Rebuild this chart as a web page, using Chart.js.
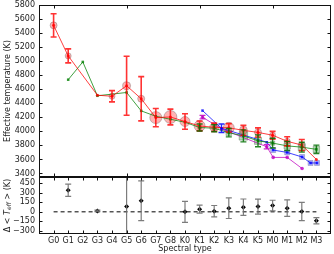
<!DOCTYPE html>
<html>
<head>
<meta charset="UTF-8">
<script src="https://cdn.jsdelivr.net/npm/chart.js"></script>
<style>
  body { margin: 0; background: #fff; }
  #wrap { position: relative; width: 334px; height: 254px; }
  canvas { position: absolute; left: 0; }
  #top { top: 0; }
  #bot { top: 176px; }
</style>
</head>
<body>
<div id="wrap">
  <canvas id="top" width="334" height="178"></canvas>
  <canvas id="bot" width="334" height="78"></canvas>
</div>
<script>
const categories = ['G0','G1','G2','G3','G4','G5','G6','G7','G8','K0','K1','K2','K3','K4','K5','M0','M1','M2','M3'];
const topYTicks = [3400,3600,3800,4000,4200,4400,4600,4800,5000,5200,5400,5600,5800];
const topXTicks = [0, 5, 10, 15];
const botYTicks = [-300,-150,0,150,300,450];

// red sample (circles sized by weight)
const redX = [0,1,3,4,5,6,7,8,9,10,11,12,13,14,15,16,17,18];
const redT = [5510,5075,4515,4500,4650,4465,4196,4205,4140,4077,4058,4050,4015,3985,3945,3858,3805,3600];
const redErr = [165,100,0,80,420,315,130,112,110,70,60,60,70,65,55,65,80,0];
const redWeight = [3.5,3,0,3,4,3.5,6,6.5,5,5.5,4.5,5.5,4,3.5,3,3,3,0];

// green sample
const greenX = [1,2,3,5,6,7,8,9,10,11,12,13,14,15,16,17,18];
const greenT = [4736,4989,4507,4554,4292,4215,4173,4130,4055,4045,3981,3936,3865,3833,3793,3775,3744];
const greenErr = [0,0,0,0,0,0,0,0,50,50,60,85,85,70,65,70,60];
const greenWeight = [0,0,0,0,0,0,0,0,2.5,3,4,6,5,3,4.5,5,4.5];

// blue sample
const blueX = [10.2,11.5,14.6,15.04,16,17.02,17.6,18.04];
const blueT = [4296,4044,3845,3734,3700,3635,3550,3550];
const blueErr = [0,60,0,0,0,0,0,0];
const blueWeight = [0,0,0,3.5,3.5,3.5,3.5,3.5];

// magenta sample
const magX = [10.2,11.5,14.6,15.04,16,17.02];
const magT = [4202,4035,3781,3629,3629,3471];
const magErr = [25,0,30,0,0,0];

// lower panel: temperature difference
const diffX = [1,3,5,6,9,10,11,12,13,14,15,16,17,18];
const diffVal = [340,15,85,175,0,42,10,58,73,83,99,58,5,-141];
const diffErr = [97,12,700,314,165,63,90,163,130,118,84,130,143,50];

Chart.defaults.font.family = 'DejaVu Sans';
Chart.defaults.font.size = 8;
Chart.defaults.color = '#222';

const pts = (xs, ys) => xs.map((x, i) => ({x: x, y: ys[i]}));

const errorBars = {
  id: 'errorBars',
  afterDatasetsDraw(chart) {
    const {ctx, chartArea: a, scales: {x, y}} = chart;
    ctx.save();
    ctx.beginPath();
    ctx.rect(a.left, a.top, a.right - a.left, a.bottom - a.top);
    ctx.clip();
    chart.data.datasets.forEach(ds => {
      if (!ds.err) return;
      ctx.strokeStyle = ds.errColor;
      ctx.lineWidth = ds.errWidth || 1.5;
      const cap = ds.errCap || 3;
      ds.data.forEach((p, i) => {
        const e = ds.err[i];
        if (!e) return;
        const px = x.getPixelForValue(p.x);
        const y1 = y.getPixelForValue(p.y + e), y2 = y.getPixelForValue(p.y - e);
        ctx.beginPath();
        ctx.moveTo(px, y1); ctx.lineTo(px, y2);
        ctx.moveTo(px - cap, y1); ctx.lineTo(px + cap, y1);
        ctx.moveTo(px - cap, y2); ctx.lineTo(px + cap, y2);
        ctx.stroke();
      });
    });
    ctx.restore();
  }
};

const frame = {
  id: 'frame',
  afterDraw(chart, args, opts) {
    const {ctx, chartArea: a, scales: {x, y}} = chart;
    const L = Math.round(a.left) + 0.5, R = Math.round(a.right) - 0.5;
    const T = Math.round(a.top) + 0.5, B = Math.round(a.bottom) - 0.5;
    ctx.save();
    ctx.strokeStyle = '#111';
    ctx.lineWidth = 1;
    ctx.strokeRect(L, T, R - L, B - T);
    ctx.beginPath();
    y.ticks.forEach(t => {
      const py = Math.round(y.getPixelForValue(t.value)) + 0.5;
      ctx.moveTo(L, py); ctx.lineTo(L + 3, py);
      ctx.moveTo(R, py); ctx.lineTo(R - 3, py);
    });
    opts.xTicks.forEach(v => {
      const px = Math.round(x.getPixelForValue(v)) + 0.5;
      ctx.moveTo(px, T); ctx.lineTo(px, T + 3);
      ctx.moveTo(px, B); ctx.lineTo(px, B - 3);
    });
    ctx.stroke();
    if (opts.yTitle) {
      ctx.translate(8, (a.top + a.bottom) / 2);
      ctx.rotate(-Math.PI / 2);
      ctx.fillStyle = '#222';
      ctx.textBaseline = 'middle';
      const parts = [
        ['8px DejaVu Sans', 'Δ < ', 0],
        ['italic 8px DejaVu Sans', 'T', 0],
        ['italic 6px DejaVu Sans', 'eff', 1.5],
        ['8px DejaVu Sans', ' > (K)', 0]
      ];
      let w = 0;
      parts.forEach(p => { ctx.font = p[0]; w += ctx.measureText(p[1]).width; });
      let cx = -w / 2;
      parts.forEach(p => {
        ctx.font = p[0];
        ctx.fillText(p[1], cx, p[2]);
        cx += ctx.measureText(p[1]).width;
      });
    }
    ctx.restore();
  }
};

function fixedTicks(arr) {
  return scale => { scale.ticks = arr.map(v => ({value: v})); };
}
function noPad(size) {
  return s => {
    if (size.w) s.width = size.w;
    if (size.h) s.height = size.h;
    s.paddingTop = 0; s.paddingBottom = 0; s.paddingLeft = 0; s.paddingRight = 0;
  };
}

new Chart(document.getElementById('top'), {
  type: 'scatter',
  data: {
    datasets: [
      { data: pts(redX, redT), showLine: true, borderColor: 'rgba(255,0,0,0.75)', borderWidth: 1,
        pointRadius: 1.5, pointBackgroundColor: 'rgba(255,0,0,0.8)', pointBorderWidth: 0,
        err: redErr, errColor: 'rgba(255,0,0,0.8)', errWidth: 1.6, order: 1 },
      { data: pts(greenX, greenT), showLine: true, borderColor: 'rgba(0,128,0,0.75)', borderWidth: 1,
        pointStyle: 'rect', pointRadius: 1.8, pointBackgroundColor: 'rgba(0,128,0,0.8)', pointBorderWidth: 0,
        err: greenErr, errColor: 'rgba(0,110,0,0.85)', errWidth: 1.4, order: 2 },
      { data: pts(blueX, blueT), showLine: true, borderColor: 'rgba(0,0,255,0.75)', borderWidth: 1,
        pointStyle: 'rect', pointRadius: 1.8, pointBackgroundColor: 'rgba(0,0,255,0.8)', pointBorderWidth: 0,
        err: blueErr, errColor: 'rgba(0,0,255,0.85)', errWidth: 1.4, order: 3 },
      { data: pts(magX, magT), showLine: true, borderColor: 'rgba(191,0,191,0.75)', borderWidth: 1,
        pointRadius: 1.8, pointBackgroundColor: 'rgba(191,0,191,0.8)', pointBorderWidth: 0,
        err: magErr, errColor: 'rgba(191,0,191,0.85)', errWidth: 1.3, order: 4 },
      { data: pts(redX, redT), pointRadius: redWeight, backgroundColor: 'rgba(255,0,0,0.3)',
        borderColor: 'rgba(90,90,90,0.35)', borderWidth: 1, order: 5 },
      { data: pts(greenX, greenT), pointStyle: 'rect', pointRadius: greenWeight, backgroundColor: 'rgba(0,128,0,0.3)',
        borderColor: 'rgba(60,90,60,0.35)', borderWidth: 1, order: 6 },
      { data: pts(blueX, blueT), pointStyle: 'rect', pointRadius: blueWeight, backgroundColor: 'rgba(0,0,255,0.3)',
        borderColor: 'rgba(60,60,120,0.3)', borderWidth: 1, order: 7 }
    ]
  },
  options: {
    responsive: false,
    animation: false,
    layout: { autoPadding: false, padding: { top: 5, bottom: 1, left: 0, right: 3 } },
    plugins: { legend: { display: false }, tooltip: { enabled: false }, frame: { xTicks: topXTicks } },
    scales: {
      x: { type: 'linear', min: -1, max: 19, display: false },
      y: {
        min: 3350, max: 5800,
        afterBuildTicks: fixedTicks(topYTicks),
        afterFit: noPad({w: 39}),
        grid: { display: false, drawTicks: false },
        border: { display: false },
        ticks: { padding: 4, autoSkip: false, color: '#222', callback: v => String(v) },
        title: { display: true, text: 'Effective temperature (K)', padding: { top: 3, bottom: 0 }, color: '#222' }
      }
    }
  },
  plugins: [errorBars, frame]
});

new Chart(document.getElementById('bot'), {
  type: 'scatter',
  data: {
    datasets: [
      { data: pts(diffX, diffVal), pointStyle: 'rectRot', pointRadius: 2.5, pointBackgroundColor: '#000',
        pointBorderWidth: 0, err: diffErr, errColor: 'rgba(110,110,110,0.9)', errWidth: 1.2, order: 1 },
      { data: [{x: 0, y: 0}, {x: categories.length - 1, y: 0}], showLine: true, borderColor: '#000',
        borderWidth: 1, borderDash: [4, 3], pointRadius: 0, order: 2 }
    ]
  },
  options: {
    responsive: false,
    animation: false,
    layout: { autoPadding: false, padding: { top: 1, bottom: 0, left: 0, right: 3 } },
    plugins: { legend: { display: false }, tooltip: { enabled: false },
      frame: { xTicks: categories.map((c, i) => i), yTitle: true } },
    scales: {
      x: {
        type: 'linear', min: -1, max: 19,
        afterBuildTicks: fixedTicks(categories.map((c, i) => i)),
        afterFit: noPad({h: 20}),
        grid: { display: false, drawTicks: false },
        border: { display: false },
        ticks: { padding: 2, autoSkip: false, maxRotation: 0, color: '#222', callback: v => categories[v] },
        title: { display: true, text: 'Spectral type', padding: { top: 0, bottom: 0 }, color: '#222' }
      },
      y: {
        min: -350, max: 550,
        afterBuildTicks: fixedTicks(botYTicks),
        afterFit: noPad({w: 39}),
        grid: { display: false, drawTicks: false },
        border: { display: false },
        ticks: { padding: 4, autoSkip: false, color: '#222', callback: v => String(v).replace('-', '\u2212') }
      }
    }
  },
  plugins: [errorBars, frame]
});
</script>
</body>
</html>
